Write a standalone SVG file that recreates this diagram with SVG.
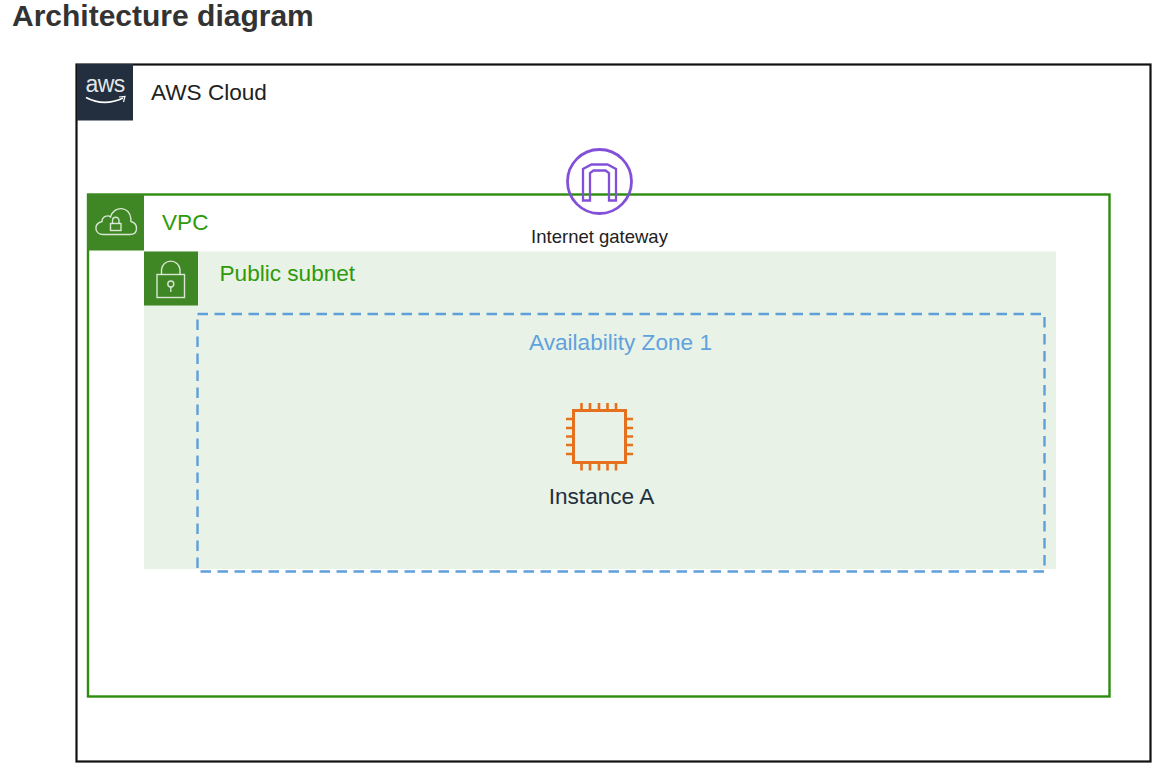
<svg xmlns="http://www.w3.org/2000/svg" width="1172" height="780" viewBox="0 0 1172 780">
<style>
text{font-family:"Liberation Sans",Arial,sans-serif}
.ic{fill:none;stroke:#fff;stroke-opacity:.8;stroke-width:1.400}
.g{fill:#2e9a0c;font-size:22.600px}
</style>
<rect width="1172" height="780" fill="#fff"/>
<text x="12" y="26" font-size="30" font-weight="700" fill="#333">Architecture diagram</text>
<g id="aws-cloud">
<rect x="76.500" y="64.500" width="1074" height="697" fill="#fff" stroke="#111" stroke-width="2.200"/>
<rect x="77" y="64" width="56" height="56.500" fill="#232f3e"/>
<text x="105" y="92" font-size="23" fill="#fff" fill-opacity=".9" text-anchor="middle" style="letter-spacing:-.6px">aws</text>
<path d="M86 97.500Q104 107 123 98" fill="none" stroke="#fff" stroke-width="1.600"/>
<path d="M119 97L125 96.500L123.500 102" fill="none" stroke="#fff" stroke-width="1.200"/>
<text x="151" y="100" font-size="22.600" fill="#222">AWS Cloud</text>
</g>
<g id="vpc">
<rect x="88" y="194.500" width="1021.500" height="502" fill="none" stroke="#2e8c0d" stroke-width="2.400"/>
<rect x="87" y="194" width="57" height="56.500" fill="#3f8624"/>
<path class="ic" d="M103 234.500C94.500 234.500 93 224 102 221.500C102 216.500 108 214.500 110.500 217C114 205 130 206 131 219C130.500 220.500 130.500 221 131 221.500C139 224 138 234.500 130 234.500Z"/>
<rect class="ic" x="110.500" y="223.500" width="10.500" height="7"/>
<path class="ic" d="M112.500 223.500V220.500A3.200 3.200 0 0 1 119 220.500V223.500"/>
<text x="162" y="230" class="g">VPC</text>
</g>
<g id="public-subnet">
<rect x="144" y="251.500" width="912" height="317.500" fill="#e9f2e6"/>
<rect x="144" y="251.500" width="54" height="54" fill="#3f8624"/>
<rect class="ic" x="157" y="274.500" width="27.500" height="23"/>
<path class="ic" d="M161.500 274.500V269.500A9.300 9.300 0 0 1 180 269.500V274.500"/>
<circle class="ic" cx="170.800" cy="284" r="3"/>
<path class="ic" d="M170.800 287V292"/>
<text x="219.500" y="281" class="g">Public subnet</text>
</g>
<g id="availability-zone">
<rect x="197.500" y="314" width="847" height="257.500" fill="none" stroke="#5f9fdb" stroke-width="2.400" stroke-dasharray="10.500 6.500"/>
<text x="620.500" y="350" font-size="22.600" fill="#5fa2dd" text-anchor="middle">Availability Zone 1</text>
</g>
<g id="internet-gateway">
<circle cx="599.500" cy="181.500" r="32" fill="none" stroke="#8250d8" stroke-width="2.800"/>
<path d="M583 200.500V169L591.500 164.500H607.500L616 169V200.500H609V173L605.500 170.500H593.500L590 173V200.500Z" fill="none" stroke="#8250d8" stroke-width="2.300"/>
<text x="599.500" y="243" font-size="18.500" fill="#222" text-anchor="middle">Internet gateway</text>
</g>
<g id="instance-a">
<rect x="573.500" y="410.500" width="52" height="52" fill="none" stroke="#e5711f" stroke-width="3"/>
<path d="M581.500 403V410M590 403V410M599 403V410M607.500 403V410M616 403V410M581.500 463V470.500M590 463V470.500M599 463V470.500M607.500 463V470.500M616 463V470.500M566 419H573M566 428H573M566 436.500H573M566 445H573M566 454H573M626 419H633M626 428H633M626 436.500H633M626 445H633M626 454H633" fill="none" stroke="#e5711f" stroke-width="2.600"/>
<text x="601.500" y="504" font-size="22.600" fill="#232f3e" text-anchor="middle">Instance A</text>
</g>
<g id="connectors"/>
</svg>
